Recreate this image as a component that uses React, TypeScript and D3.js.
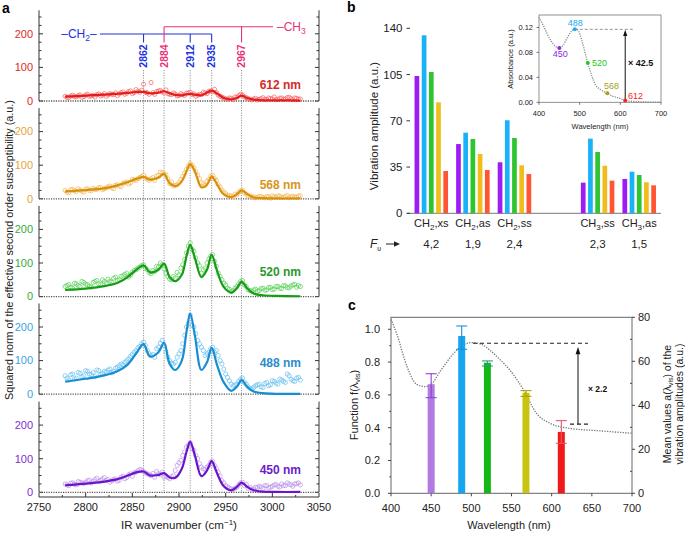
import React from 'react';
import * as d3 from 'd3';

const FONT = "'Liberation Sans', Arial, Helvetica, sans-serif";

// ---------- Panel a data ----------
const panelNm = [612, 568, 520, 488, 450];
const assignWn = [2862, 2884, 2912, 2935, 2967];
const assignGroup = ['CH2', 'CH3', 'CH2', 'CH2', 'CH3'];
const aMajorTicks = [0, 100, 200];
const aMinorTicks = [25, 50, 75, 125, 150, 175, 225, 250];
const aXTicks = [2750, 2800, 2850, 2900, 2950, 3000, 3050];
const aXMinor = [2775, 2825, 2875, 2925, 2975, 3025];

const fitWn = [2778, 2800, 2820, 2835, 2845, 2855, 2862, 2869, 2878, 2884, 2890, 2896, 2903, 2908, 2912, 2917, 2924, 2930, 2935, 2941, 2948, 2956, 2962, 2967, 2973, 2980, 2990, 3005, 3030];
const fit612 = [13, 16, 19, 22, 24, 27, 27, 23, 25, 29, 23, 18, 17, 20, 21, 19, 17, 25, 31, 22, 9, 5, 9, 16, 9, 4, 2, 2, 1];
const fit568 = [22, 26, 31, 41, 50, 60, 65, 57, 63, 74, 46, 38, 52, 82, 103, 82, 34, 42, 66, 42, 13, 5, 13, 25, 14, 4, 2, 1, 1];
const fit520 = [20, 24, 31, 42, 58, 82, 93, 72, 80, 98, 58, 46, 65, 120, 154, 115, 58, 80, 124, 75, 28, 12, 25, 44, 25, 9, 4, 2, 1];
const fit488 = [37, 46, 56, 70, 88, 125, 149, 112, 125, 153, 90, 72, 100, 185, 240, 175, 72, 95, 138, 85, 35, 10, 22, 42, 22, 8, 3, 1, 1];
const fit450 = [21, 26, 32, 40, 50, 60, 62, 50, 52, 57, 44, 43, 70, 120, 150, 110, 48, 65, 93, 55, 18, 6, 16, 29, 16, 6, 2, 1, 1];

const dataWn = [2778, 2782, 2786, 2790, 2794, 2798, 2802, 2806, 2810, 2814, 2818, 2822, 2826, 2830, 2834, 2838, 2842, 2846, 2850, 2854, 2858, 2862, 2866, 2870, 2874, 2878, 2882, 2886, 2890, 2894, 2898, 2902, 2906, 2910, 2914, 2918, 2922, 2926, 2930, 2934, 2938, 2942, 2946, 2950, 2954, 2958, 2962, 2966, 2970, 2974, 2978, 2982, 2986, 2990, 2994, 2998, 3002, 3006, 3010, 3014, 3018, 3022, 3026, 3030];
const data612 = [14, 10, 17, 12, 18, 13, 20, 15, 12, 21, 17, 14, 22, 19, 16, 25, 20, 28, 22, 34, 26, 50, 24, 55, 20, 30, 27, 33, 20, 24, 15, 22, 17, 24, 19, 14, 20, 26, 22, 30, 35, 18, 12, 6, 9, 4, 11, 20, 12, 7, 3, 8, 5, 10, 4, 7, 12, 5, 9, 6, 11, 4, 8, 6];
const data568 = [25, 18, 28, 22, 26, 20, 30, 24, 28, 33, 27, 32, 38, 30, 42, 36, 48, 44, 58, 55, 64, 70, 58, 60, 55, 70, 78, 72, 45, 38, 42, 58, 76, 98, 100, 80, 60, 45, 52, 68, 60, 42, 25, 15, 10, 6, 12, 24, 18, 8, 5, 3, 8, 4, 7, 2, 6, 9, 4, 7, 3, 8, 5, 9];
const data520 = [30, 36, 25, 38, 30, 42, 35, 28, 45, 38, 50, 40, 46, 55, 48, 60, 66, 58, 72, 80, 88, 95, 80, 68, 75, 88, 95, 70, 52, 60, 72, 85, 110, 150, 140, 115, 92, 80, 100, 120, 105, 70, 50, 35, 22, 18, 30, 45, 35, 20, 15, 22, 18, 25, 20, 28, 22, 30, 24, 32, 26, 35, 28, 30];
const data488 = [55, 42, 60, 48, 62, 55, 68, 58, 52, 70, 62, 66, 75, 68, 80, 90, 95, 105, 118, 130, 142, 155, 130, 115, 110, 140, 160, 125, 100, 90, 110, 130, 175, 210, 205, 180, 150, 130, 120, 135, 125, 115, 90, 60, 40, 25, 30, 45, 35, 22, 15, 25, 30, 20, 35, 28, 38, 30, 42, 35, 55, 40, 48, 42];
const data450 = [25, 20, 28, 22, 30, 26, 35, 28, 38, 32, 40, 35, 30, 38, 33, 45, 40, 52, 48, 60, 68, 62, 55, 50, 45, 55, 60, 48, 40, 50, 80, 95, 120, 140, 130, 110, 85, 70, 75, 90, 80, 60, 35, 20, 12, 8, 15, 28, 20, 12, 8, 15, 18, 12, 20, 15, 22, 18, 25, 20, 24, 18, 26, 22];

const dataWnB = [2780, 2784, 2788, 2792, 2796, 2800, 2804, 2808, 2812, 2816, 2820, 2824, 2828, 2832, 2836, 2840, 2844, 2848, 2852, 2856, 2860, 2864, 2868, 2872, 2876, 2880, 2884, 2888, 2892, 2896, 2900, 2904, 2908, 2912, 2916, 2920, 2924, 2928, 2932, 2936, 2940, 2944, 2948, 2952, 2956, 2960, 2964, 2968, 2972, 2976, 2980, 2984, 2988, 2992, 2996, 3000, 3004, 3008, 3012, 3016, 3020, 3024, 3028];
const data612B = [11, 15, 13, 16, 11, 18, 14, 17, 19, 15, 22, 18, 20, 24, 21, 27, 23, 30, 25, 29, 32, 26, 20, 25, 28, 31, 24, 22, 19, 21, 16, 19, 23, 26, 21, 17, 19, 24, 29, 27, 25, 14, 9, 5, 8, 12, 16, 18, 10, 5, 6, 3, 7, 5, 9, 6, 4, 8, 5, 10, 7, 9, 5];
const data568B = [20, 27, 24, 30, 22, 29, 25, 31, 28, 34, 30, 36, 33, 40, 38, 46, 50, 47, 56, 60, 66, 62, 55, 63, 68, 80, 74, 60, 50, 40, 48, 66, 88, 105, 92, 70, 48, 40, 58, 70, 55, 35, 20, 10, 8, 14, 20, 26, 14, 9, 6, 4, 7, 3, 6, 9, 5, 8, 4, 10, 6, 5, 8];
const data520B = [33, 28, 40, 33, 45, 37, 30, 42, 48, 36, 45, 52, 43, 58, 50, 62, 70, 64, 78, 85, 92, 85, 72, 78, 90, 100, 82, 60, 50, 55, 65, 95, 130, 160, 135, 100, 70, 85, 112, 125, 90, 60, 40, 25, 15, 25, 38, 48, 30, 18, 20, 16, 24, 19, 27, 21, 30, 25, 33, 27, 31, 36, 33];
const data488B = [48, 58, 45, 65, 52, 70, 60, 64, 72, 58, 68, 72, 64, 78, 85, 88, 100, 112, 125, 138, 150, 145, 120, 118, 135, 152, 145, 110, 92, 95, 120, 150, 200, 235, 200, 160, 140, 115, 125, 140, 130, 100, 75, 50, 30, 28, 38, 48, 30, 18, 20, 28, 22, 32, 25, 40, 33, 45, 38, 60, 45, 38, 50];
const data450B = [22, 27, 24, 32, 28, 30, 36, 33, 42, 36, 44, 38, 34, 40, 36, 48, 44, 55, 58, 64, 66, 58, 52, 56, 62, 52, 45, 44, 46, 65, 88, 110, 135, 148, 125, 100, 75, 68, 80, 92, 70, 48, 28, 16, 10, 12, 22, 30, 24, 15, 10, 14, 16, 20, 13, 18, 23, 16, 20, 28, 22, 25, 28];

// ---------- Panel b data ----------
const bCategories = ['CH2,xs', 'CH2,as', 'CH2,ss', 'CH3,ss', 'CH3,as'];
const bSlots = ['CH2,xs', 'CH2,as', 'CH2,ss', 'gap', 'CH3,ss', 'CH3,as'];
const bWavelengths = [450, 488, 520, 568, 612];
const b450 = [103.9, 52.4, 38.6, 23.2, 26];
const b488 = [134.7, 61, 70.4, 56.5, 31.5];
const b520 = [106.9, 56.2, 57, 46.4, 29];
const b568 = [84, 44.9, 36.3, 36, 23.5];
const b612 = [32, 32.8, 29.7, 24.7, 21.2];
const bFactors = ['4,2', '1,9', '2,4', '2,3', '1,5'];
const bYTicks = [0, 35, 70, 105, 140];

const absWl = [400, 410, 420, 430, 440, 450, 460, 470, 480, 488, 495, 505, 515, 520, 530, 540, 550, 560, 568, 580, 590, 600, 612, 630, 650, 680, 700];
const absVal = [0.136, 0.124, 0.110, 0.098, 0.090, 0.087, 0.092, 0.104, 0.114, 0.117, 0.116, 0.100, 0.075, 0.063, 0.042, 0.027, 0.021, 0.017, 0.0147, 0.010, 0.008, 0.006, 0.003, 0.0015, 0.0008, 0.0003, 0];
const absMarkWl = [450, 488, 520, 568, 612];
const absMarkVal = [0.087, 0.117, 0.063, 0.0147, 0.003];
const insetYTicks = [0, 0.04, 0.08, 0.12];
const insetXTicks = [400, 500, 600, 700];

// ---------- Panel c data ----------
const cWl = [450, 488, 520, 568, 612];
const cF = [0.665, 0.959, 0.796, 0.613, 0.374];
const cErrLo = [0.583, 0.878, 0.776, 0.591, 0.305];
const cErrHi = [0.729, 1.02, 0.807, 0.626, 0.443];
const meanWl = [400, 407, 420, 432, 442, 450, 461, 480, 490, 500, 512, 523, 535, 548, 565, 581, 598, 623, 656, 700];
const meanVal = [79, 72.7, 57.5, 49.5, 48.5, 49.5, 55.3, 64.4, 67.5, 68.5, 67.8, 65.1, 61, 56, 47, 36.4, 31.8, 29.5, 28.5, 27.3];
const cLeftTicks = [0, 0.2, 0.4, 0.6, 0.8, 1.0];
const cLeftMinor = [0.1, 0.3, 0.5, 0.7, 0.9];
const cRightTicks = [0, 20, 40, 60, 80];
const cRightMinor = [10, 30, 50, 70];
const cXTicks = [400, 450, 500, 550, 600, 650, 700];

const seriesA = [
  { nm: panelNm[0], fit: fit612, pts: data612, ptsB: data612B, line: '#e31c1c', pt: '#f45c5c', tick: '#e02828', lab: '#d62a2a' },
  { nm: panelNm[1], fit: fit568, pts: data568, ptsB: data568B, line: '#d8900c', pt: '#f2b448', tick: '#e8a33c', lab: '#d9961a' },
  { nm: panelNm[2], fit: fit520, pts: data520, ptsB: data520B, line: '#179c17', pt: '#52cc52', tick: '#38aa38', lab: '#2a9a2a' },
  { nm: panelNm[3], fit: fit488, pts: data488, ptsB: data488B, line: '#178dd2', pt: '#5cbdf2', tick: '#3aa3e3', lab: '#2a8ccf' },
  { nm: panelNm[4], fit: fit450, pts: data450, ptsB: data450B, line: '#6a14cc', pt: '#b890e8', tick: '#7a30d4', lab: '#6a22c8' },
];
const bSeries = [
  { wl: bWavelengths[0], v: b450, c: '#9d1cf5' },
  { wl: bWavelengths[1], v: b488, c: '#1ab2f7' },
  { wl: bWavelengths[2], v: b520, c: '#2ec530' },
  { wl: bWavelengths[3], v: b568, c: '#f0bd1c' },
  { wl: bWavelengths[4], v: b612, c: '#ff5533' },
];
const absMarkColors = ['#8a2be2', '#1eaaf1', '#22c522', '#a8a020', '#ff2020'];
const cBarColors = ['#b07ae2', '#16a6f0', '#14b814', '#c9c412', '#f01818'];
const cErrColors = ['#9040d0', '#1a90e0', '#2a9a80', '#b0a000', '#e85a6a'];

const BLUE = '#2233dd';
const PINK = '#e8317a';

function Arrow({ x, y1, y2, head = 4 }: { x: number; y1: number; y2: number; head?: number }) {
  return (
    <g>
      <line x1={x} x2={x} y1={y1} y2={y2 + head * 2} stroke="#111" strokeWidth={1} />
      <path d={`M${x},${y2} L${x - head * 0.8},${y2 + head * 2.4} L${x + head * 0.8},${y2 + head * 2.4} Z`} fill="#111" />
    </g>
  );
}

export default function App() {
  // ---- panel a scales ----
  const xA = d3.scaleLinear().domain([2750, 3050]).range([39, 319]);
  const zeroY = [101, 198.8, 296.6, 394.2, 492.3];
  const pH = 90.7;

  // ---- panel b scales ----
  const xB = d3.scaleBand<string>().domain(bSlots).range([410.5, 660]).padding(0);
  const yB = d3.scaleLinear().domain([0, 140]).range([213.3, 28.3]);
  const barStep = 7.2, barW = 4.7;
  const xIn = d3.scaleLinear().domain([400, 700]).range([539, 661]);
  const yIn = d3.scaleLinear().domain([0, 0.14]).range([102.3, 15]);
  const absLine = d3.line<number>().x((_, i) => xIn(absWl[i])).y((d) => yIn(d)).curve(d3.curveMonotoneX)(absVal) || '';

  // ---- panel c scales ----
  const xC = d3.scaleLinear().domain([400, 700]).range([391, 632]);
  const yCL = d3.scaleLinear().domain([0, 1.073]).range([493.3, 317.3]);
  const yCR = d3.scaleLinear().domain([0, 80]).range([493.3, 317.3]);
  const meanLine = d3.line<number>().x((_, i) => xC(meanWl[i])).y((d) => yCR(d)).curve(d3.curveMonotoneX)(meanVal) || '';

  const axisColor = '#333';
  const labelYs = [89, 189, 276, 367, 474];

  return (
    <svg width={685} height={535} style={{ position: 'absolute', left: 0, top: 0, background: '#fff' }} fontFamily={FONT}>
      {/* ================= PANEL A ================= */}
      <text x={2} y={13} fontSize={14} fontWeight="bold">a</text>

      {assignWn.map((w) => (
        <line key={'g' + w} x1={xA(w)} x2={xA(w)} y1={70} y2={zeroY[4]} stroke="#8a8a8a" strokeWidth={0.9} strokeDasharray="1.2,1.3" />
      ))}

      {seriesA.map((s, i) => {
        const y = d3.scaleLinear().domain([0, 100]).range([zeroY[i], zeroY[i] - 33.6]);
        const top = zeroY[i] - pH;
        const fitPath = d3.line<number>().x((_, k) => xA(fitWn[k])).y((d) => y(d)).curve(d3.curveCatmullRom.alpha(0.5))(s.fit) || '';
        return (
          <g key={s.nm}>
            <line x1={39} x2={39} y1={top} y2={zeroY[i]} stroke={axisColor} strokeWidth={1} />
            <line x1={319} x2={319} y1={top} y2={zeroY[i]} stroke={axisColor} strokeWidth={1} />
            {aMajorTicks.map((t) => (
              <g key={'M' + t}>
                <line x1={39} x2={43} y1={y(t)} y2={y(t)} stroke={axisColor} />
                <line x1={315} x2={319} y1={y(t)} y2={y(t)} stroke={axisColor} />
                <text x={33} y={y(t)} dy="0.35em" fontSize={11} textAnchor="end" fill={s.tick}>{t}</text>
              </g>
            ))}
            {aMinorTicks.map((t) => (
              <g key={'m' + t}>
                <line x1={39} x2={41.5} y1={y(t)} y2={y(t)} stroke={axisColor} />
                <line x1={316.5} x2={319} y1={y(t)} y2={y(t)} stroke={axisColor} />
              </g>
            ))}
            <line x1={39} x2={319} y1={zeroY[i]} y2={zeroY[i]} stroke="#555" strokeWidth={1.3} strokeDasharray="1.2,1.2" />
            {s.pts.map((v, k) => (
              <circle key={'p' + k} cx={xA(dataWn[k])} cy={y(v)} r={2.1} fill="none" stroke={s.pt} strokeWidth={0.8} opacity={0.85} />
            ))}
            {s.ptsB.map((v, k) => (
              <circle key={'q' + k} cx={xA(dataWnB[k])} cy={y(v)} r={2.1} fill="none" stroke={s.pt} strokeWidth={0.8} opacity={0.85} />
            ))}
            <path d={fitPath} fill="none" stroke={s.line} strokeWidth={2.2} />
            <text x={301} y={labelYs[i]} fontSize={12} fontWeight="bold" textAnchor="end" fill={s.lab}>{s.nm} nm</text>
          </g>
        );
      })}

      {/* assignment brackets */}
      <line x1={100} x2={xA(2935)} y1={34} y2={34} stroke={BLUE} strokeWidth={1.1} />
      <line x1={xA(2884)} x2={273} y1={26.7} y2={26.7} stroke={PINK} strokeWidth={1.1} />
      {assignWn.map((w, i) => (
        <line key={'b' + w} x1={xA(w)} x2={xA(w)} y1={assignGroup[i] === 'CH2' ? 34 : 26.7} y2={42.5} stroke={assignGroup[i] === 'CH2' ? BLUE : PINK} strokeWidth={1.1} />
      ))}
      {assignWn.map((w, i) => (
        <text key={'t' + w} transform={`translate(${xA(w)},56) rotate(-90)`} textAnchor="middle" dy="0.36em" fontSize={10.5} fontWeight="bold" fill={assignGroup[i] === 'CH2' ? BLUE : PINK}>{w}</text>
      ))}
      <text x={79} y={38} textAnchor="middle" fontSize={12} fill={BLUE}>
        <tspan>–CH</tspan><tspan dy={3} fontSize={8.5}>2</tspan><tspan dy={-3}>–</tspan>
      </text>
      <text x={277} y={31} fontSize={12} fill={PINK}>
        <tspan>–CH</tspan><tspan dy={3} fontSize={8.5}>3</tspan>
      </text>

      {/* x axis a */}
      <line x1={39} x2={319} y1={497} y2={497} stroke={axisColor} />
      {aXTicks.map((t) => (
        <g key={'ax' + t}>
          <line x1={xA(t)} x2={xA(t)} y1={497} y2={493} stroke={axisColor} />
          <text x={xA(t)} y={510.5} fontSize={11} textAnchor="middle" fill="#222">{t}</text>
        </g>
      ))}
      {aXMinor.map((t) => (
        <line key={'axm' + t} x1={xA(t)} x2={xA(t)} y1={497} y2={495} stroke={axisColor} />
      ))}
      <text x={179} y={529} fontSize={11.5} textAnchor="middle" fill="#222">
        IR wavenumber (cm<tspan dy={-4} fontSize={8}>−1</tspan><tspan dy={4}>)</tspan>
      </text>
      <text transform="translate(9,250) rotate(-90)" textAnchor="middle" fontSize={10.8} fill="#222" dy="0.35em">
        Squared norm of the effective second order susceptibility (a.u.)
      </text>

      {/* ================= PANEL B ================= */}
      <text x={347} y={12} fontSize={14} fontWeight="bold">b</text>
      <line x1={407} x2={661} y1={yB(0)} y2={yB(0)} stroke="#777" strokeWidth={1} />
      {bYTicks.map((t) => (
        <g key={'by' + t}>
          <line x1={406.5} x2={410} y1={yB(t)} y2={yB(t)} stroke="#333" />
          <text x={402.5} y={yB(t)} dy="0.35em" textAnchor="end" fontSize={11.5} fill="#222">{t}</text>
        </g>
      ))}
      {bCategories.map((cat, ci) => {
        const cx = (xB(cat) as number) + xB.bandwidth() / 2;
        const [grp, mode] = cat.split(',');
        return (
          <g key={cat}>
            {bSeries.map((s, k) => (
              <rect key={s.wl} x={cx + (k - 2) * barStep - barW / 2} y={yB(s.v[ci])} width={barW} height={yB(0) - yB(s.v[ci])} fill={s.c} />
            ))}
            <text x={cx} y={227} textAnchor="middle" fontSize={11} fill="#222">
              <tspan>{grp.slice(0, 2)}</tspan><tspan dy={3} fontSize={8}>{grp.slice(2)}</tspan><tspan dy={-3}>,{mode}</tspan>
            </text>
            <text x={cx} y={248} textAnchor="middle" fontSize={11.5} fill="#222">{bFactors[ci]}</text>
          </g>
        );
      })}
      <text x={370} y={248} fontSize={12} fontStyle="italic" fill="#222">F<tspan dy={3} fontSize={7} fontStyle="normal">υ</tspan></text>
      <line x1={386} x2={396} y1={244} y2={244} stroke="#222" strokeWidth={1} />
      <path d="M400,244 L394,241.3 L394,246.7 Z" fill="#222" />
      <text transform="translate(374,126) rotate(-90)" textAnchor="middle" fontSize={11.5} fill="#222" dy="0.35em">Vibration amplitude (a.u.)</text>

      {/* inset */}
      <rect x={539} y={15} width={122} height={87.3} fill="none" stroke="#777" strokeWidth={0.8} />
      {insetYTicks.map((t) => (
        <g key={'iy' + t}>
          <line x1={536.5} x2={539} y1={yIn(t)} y2={yIn(t)} stroke="#555" strokeWidth={0.8} />
          <text x={533} y={yIn(t)} dy="0.35em" textAnchor="end" fontSize={7.5} fill="#222">{t.toFixed(2)}</text>
        </g>
      ))}
      {insetXTicks.map((t) => (
        <g key={'ix' + t}>
          <line x1={xIn(t)} x2={xIn(t)} y1={102.3} y2={104.8} stroke="#555" strokeWidth={0.8} />
          <text x={xIn(t)} y={116} textAnchor="middle" fontSize={7.5} fill="#222">{t}</text>
        </g>
      ))}
      <text x={600} y={129} textAnchor="middle" fontSize={7.5} fill="#222">Wavelength (nm)</text>
      <text transform="translate(510,59) rotate(-90)" textAnchor="middle" fontSize={7.5} fill="#222" dy="0.35em">Absorbance (a.u.)</text>
      <path d={absLine} fill="none" stroke="#8a8a8a" strokeWidth={1.3} strokeDasharray="1.2,1.2" />
      <line x1={xIn(488)} x2={633} y1={yIn(0.117)} y2={yIn(0.117)} stroke="#888" strokeWidth={0.9} strokeDasharray="3,2" />
      <Arrow x={xIn(612)} y1={yIn(0.003)} y2={yIn(0.117) + 0.5} head={2.6} />
      <text x={628} y={66} fontSize={9} fontWeight="bold" fill="#111">× 42.5</text>
      {absMarkWl.map((w, i) => (
        <circle key={'am' + w} cx={xIn(w)} cy={yIn(absMarkVal[i])} r={2} fill={absMarkColors[i]} />
      ))}
      <text x={xIn(450) + 1} y={57} textAnchor="middle" fontSize={9} fill={absMarkColors[0]}>450</text>
      <text x={xIn(488) + 0.5} y={25.5} textAnchor="middle" fontSize={9} fill={absMarkColors[1]}>488</text>
      <text x={592} y={66} fontSize={9} fill={absMarkColors[2]}>520</text>
      <text x={604} y={89} fontSize={9} fill={absMarkColors[3]}>568</text>
      <text x={628} y={98.5} fontSize={9} fill={absMarkColors[4]}>612</text>

      {/* ================= PANEL C ================= */}
      <text x={348} y={310} fontSize={14} fontWeight="bold">c</text>
      <rect x={391} y={317.3} width={241} height={176} fill="none" stroke="#666" strokeWidth={1} />
      {cLeftTicks.map((t) => (
        <g key={'cl' + t}>
          <line x1={388} x2={391} y1={yCL(t)} y2={yCL(t)} stroke="#444" />
          <text x={380} y={yCL(t)} dy="0.35em" textAnchor="end" fontSize={11} fill="#222">{t.toFixed(1)}</text>
        </g>
      ))}
      {cLeftMinor.map((t) => (
        <line key={'clm' + t} x1={389.3} x2={391} y1={yCL(t)} y2={yCL(t)} stroke="#444" />
      ))}
      {cRightTicks.map((t) => (
        <g key={'cr' + t}>
          <line x1={632} x2={635} y1={yCR(t)} y2={yCR(t)} stroke="#444" />
          <text x={638} y={yCR(t)} dy="0.35em" textAnchor="start" fontSize={11} fill="#222">{t}</text>
        </g>
      ))}
      {cRightMinor.map((t) => (
        <line key={'crm' + t} x1={630} x2={632} y1={yCR(t)} y2={yCR(t)} stroke="#444" />
      ))}
      {cXTicks.map((t) => (
        <g key={'cx' + t}>
          <line x1={xC(t)} x2={xC(t)} y1={493.3} y2={496.3} stroke="#444" />
          <text x={xC(t)} y={512} textAnchor="middle" fontSize={11} fill="#222">{t}</text>
        </g>
      ))}
      <text x={509} y={529} textAnchor="middle" fontSize={11} fill="#222">Wavelength (nm)</text>
      <text transform="translate(354,405) rotate(-90)" textAnchor="middle" fontSize={11} fill="#222" dy="0.35em">
        Function f(λ<tspan dy={2.5} fontSize={7.5}>vis</tspan><tspan dy={-2.5}>)</tspan>
      </text>
      <text transform="translate(667,404) rotate(-90)" textAnchor="middle" fontSize={10.5} fill="#222" dy="0.35em">
        Mean values a(λ<tspan dy={2.5} fontSize={7}>vis</tspan><tspan dy={-2.5}>) of the</tspan>
      </text>
      <text transform="translate(679,404) rotate(-90)" textAnchor="middle" fontSize={10.5} fill="#222" dy="0.35em">
        vibration amplitudes (a.u.)
      </text>
      <path d={meanLine} fill="none" stroke="#777" strokeWidth={1.3} strokeDasharray="1.3,1.3" />
      {cWl.map((w, i) => (
        <g key={'cb' + w}>
          <rect x={xC(w) - 3.5} y={yCL(cF[i])} width={7} height={yCL(0) - yCL(cF[i])} fill={cBarColors[i]} />
          <line x1={xC(w)} x2={xC(w)} y1={yCL(cErrLo[i])} y2={yCL(cErrHi[i])} stroke={cErrColors[i]} strokeWidth={1.1} />
          <line x1={xC(w) - 5.5} x2={xC(w) + 5.5} y1={yCL(cErrLo[i])} y2={yCL(cErrLo[i])} stroke={cErrColors[i]} strokeWidth={1.1} />
          <line x1={xC(w) - 5.5} x2={xC(w) + 5.5} y1={yCL(cErrHi[i])} y2={yCL(cErrHi[i])} stroke={cErrColors[i]} strokeWidth={1.1} />
        </g>
      ))}
      <line x1={473} x2={588} y1={yCR(68.2)} y2={yCR(68.2)} stroke="#222" strokeWidth={1.2} strokeDasharray="4,3" />
      <line x1={570} x2={589} y1={yCR(31.4)} y2={yCR(31.4)} stroke="#222" strokeWidth={1.2} strokeDasharray="4,3" />
      <Arrow x={578} y1={yCR(31.4)} y2={yCR(66.5)} head={3} />
      <text x={588} y={392} fontSize={8.5} fontWeight="bold" fill="#111">× 2.2</text>
    </svg>
  );
}
